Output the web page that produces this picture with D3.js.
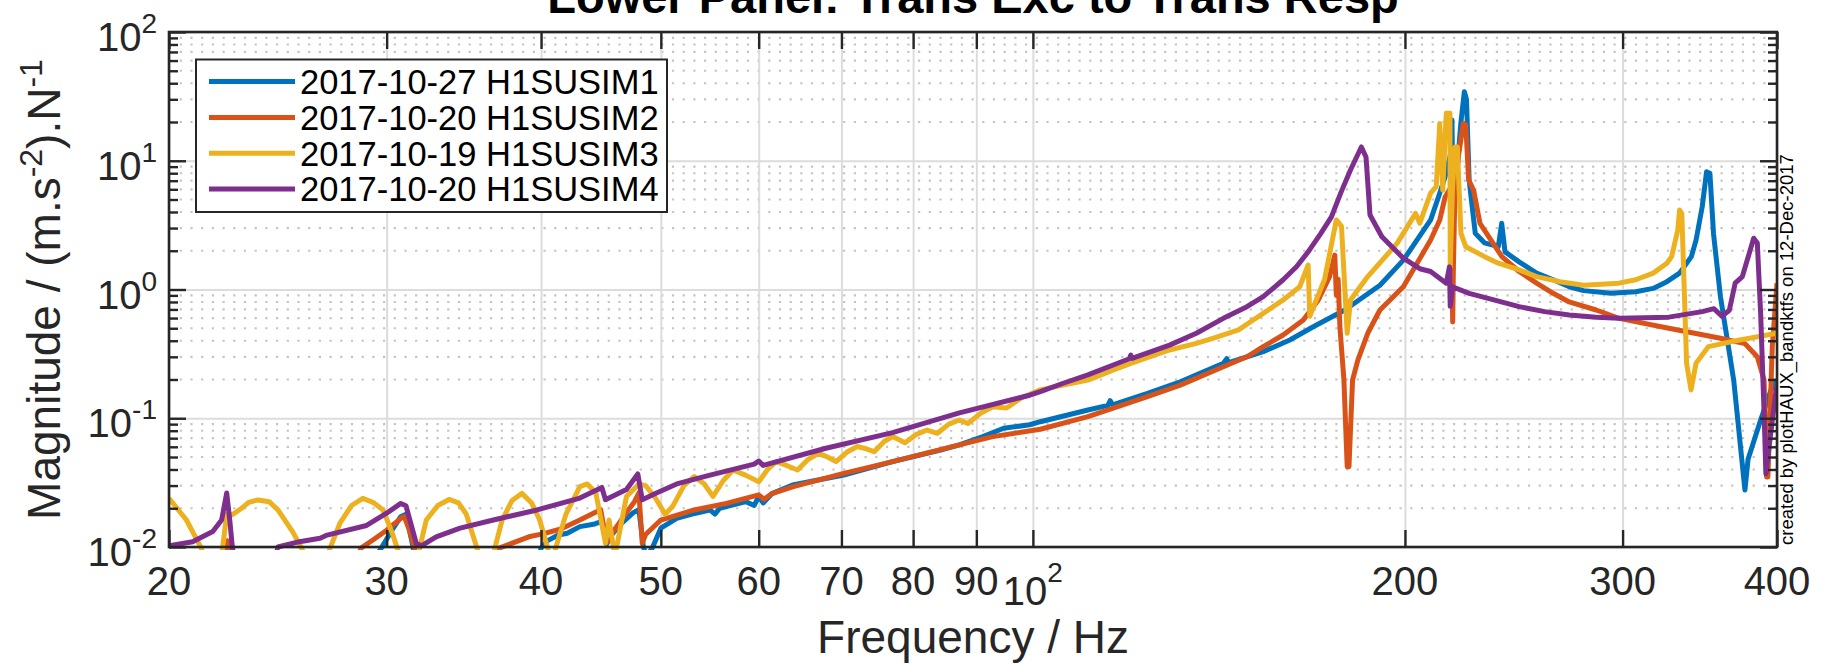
<!DOCTYPE html>
<html><head><meta charset="utf-8">
<script src="https://cdn.jsdelivr.net/npm/d3@7"></script>
<style>
html,body{margin:0;padding:0;background:#fff;}
svg{display:block;}
text{font-family:"Liberation Sans",Arial,Helvetica,sans-serif;}
</style></head><body>
<svg id="chart" width="1831" height="664"></svg>
<script>
// ---------------- data (frequency Hz, magnitude) ----------------
const seriesNames = ["2017-10-27 H1SUSIM1","2017-10-20 H1SUSIM2","2017-10-19 H1SUSIM3","2017-10-20 H1SUSIM4"];
const seriesColors = ["#0072BD","#D95319","#EDB120","#7E2F8E"];

const im1 = [[29.0,0.007],[29.7,0.0098],[30.3,0.0135],[30.8,0.0172],[31.1,0.018],[31.5,0.0102],[31.8,0.006],
 [39.5,0.006],[40.0,0.0098],[40.5,0.0112],[41.3,0.0124],[42.0,0.0128],[43.0,0.0144],[44.1,0.015],[44.8,0.0158],[45.2,0.0105],[45.5,0.012],[46.3,0.0148],[47.5,0.0185],[48.0,0.0195],[48.4,0.0100],[48.7,0.0085],[49.2,0.0098],[50.0,0.014],[51.5,0.0167],[53.0,0.018],[54.8,0.0194],[55.3,0.018],[55.8,0.020],[58.6,0.0225],[59.5,0.021],[60.0,0.0247],[60.5,0.022],[61.5,0.026],[63.9,0.0303],[70.3,0.0362],[77.0,0.046],[84.2,0.0567],[87.2,0.0622],[91.1,0.072],[94.7,0.0836],[99.4,0.089],[101.4,0.094],[110.8,0.116],[115.0,0.126],[115.5,0.137],[116.0,0.127],[123.8,0.156],[131.6,0.192],[142.6,0.267],[143.5,0.29],[144.0,0.27],[149.0,0.30],[153.6,0.329],[161.4,0.405],[168.6,0.514],[178.8,0.693],[190.9,1.08],[199.4,1.69],[209.8,3.47],[213.4,5.6],[216.0,8.0],[217.8,11.5],[218.3,20.7],[218.8,5.0],[220.5,9.0],[222.0,20.0],[223.4,34.4],[224.3,30.0],[225.4,7.1],[228.0,2.73],[232.0,2.3],[238.0,2.15],[239.5,3.27],[241.0,1.96],[247.4,1.64],[255.6,1.34],[263.6,1.19],[271.6,1.05],[279.0,0.98],[293.6,0.934],[307.4,0.96],[317.6,1.02],[325.8,1.15],[333.6,1.34],[341.0,1.8],[344.0,2.42],[348.0,4.4],[350.8,8.2],[353.0,8.0],[355.4,2.7],[360.0,0.88],[369.0,0.198],[376.8,0.0277],[379.0,0.048],[388.0,0.097],[395.6,0.166],[400.0,0.2]];

const im2 = [[22.0,0.006],[22.3,0.0112],[22.5,0.006],
 [28.2,0.007],[28.6,0.0098],[29.3,0.0115],[30.0,0.0135],[30.8,0.0167],[31.0,0.0172],[31.3,0.0135],[31.6,0.0098],[31.9,0.006],
 [36.5,0.007],[37.0,0.0098],[39.1,0.012],[40.2,0.0127],[41.5,0.0138],[43.0,0.0162],[44.1,0.0183],[44.7,0.0195],[45.2,0.0108],[45.7,0.013],[46.9,0.0185],[47.6,0.0225],[48.0,0.0263],[48.3,0.0107],[48.6,0.0125],[50.0,0.0162],[53.2,0.0194],[56.5,0.0218],[60.0,0.0254],[60.6,0.0235],[61.5,0.026],[64.0,0.0294],[70.3,0.0373],[77.0,0.046],[87.2,0.0622],[92.8,0.072],[101.4,0.0822],[110.8,0.103],[123.8,0.147],[131.6,0.181],[142.6,0.251],[149.0,0.30],[153.6,0.36],[159.4,0.443],[165.5,0.58],[170.2,0.83],[173.8,1.26],[175.5,1.85],[176.0,0.9],[176.6,1.2],[177.2,0.5],[178.5,0.2],[179.6,0.042],[180.2,0.042],[181.4,0.198],[183.2,0.283],[186.6,0.457],[190.9,0.693],[199.4,1.05],[209.8,2.42],[213.4,3.47],[215.5,5.2],[217.8,6.2],[218.3,1.5],[218.6,0.56],[218.9,1.5],[219.5,5.5],[221.0,11.0],[223.0,19.5],[224.0,19.0],[225.2,7.1],[227.3,5.9],[230.0,3.27],[239.6,1.8],[247.4,1.38],[255.6,1.12],[263.6,0.934],[271.6,0.8],[285.6,0.693],[298.0,0.597],[327.0,0.5],[360.0,0.418],[376.8,0.38],[385.6,0.3],[390.5,0.198],[392.3,0.035],[393.3,0.035],[396.5,0.36],[400.0,1.12]];

const im3 = [[20.0,0.0239],[20.66,0.0162],[21.24,0.0098],[21.6,0.006],[22.0,0.007],[22.1,0.0098],[22.27,0.018],[22.5,0.0178],[22.9,0.020],[23.2,0.0222],[23.6,0.0232],[24.1,0.0225],[24.5,0.0194],[25.2,0.013],[25.6,0.0098],[26.2,0.006],[26.7,0.007],[27.0,0.0098],[27.5,0.0153],[28.1,0.021],[28.7,0.0239],[29.3,0.022],[29.8,0.0194],[30.3,0.013],[30.6,0.0098],[31.2,0.006],[31.7,0.007],[31.9,0.0098],[32.3,0.0162],[33.0,0.021],[33.7,0.0234],[34.3,0.022],[34.8,0.018],[35.5,0.0098],[36.1,0.006],[36.6,0.007],[36.7,0.0098],[37.2,0.0162],[37.9,0.023],[38.6,0.0261],[39.3,0.022],[39.9,0.0162],[40.5,0.0098],[40.8,0.006],[41.0,0.007],[41.1,0.0098],[41.9,0.018],[43.0,0.0294],[43.6,0.0309],[44.3,0.0263],[45.1,0.0107],[45.4,0.0162],[45.9,0.0085],[46.9,0.0247],[48.0,0.0309],[48.6,0.030],[49.5,0.024],[50.4,0.018],[51.1,0.0206],[52.2,0.030],[53.2,0.0352],[54.2,0.031],[55.1,0.0247],[56.2,0.033],[57.2,0.0396],[58.6,0.036],[60.0,0.0321],[61.0,0.040],[62.0,0.046],[63.2,0.043],[64.5,0.0396],[65.8,0.048],[67.1,0.0535],[68.2,0.050],[69.3,0.046],[70.8,0.055],[72.1,0.0603],[73.2,0.058],[74.4,0.055],[75.8,0.066],[77.0,0.072],[78.8,0.0646],[80.5,0.075],[82.1,0.081],[83.7,0.0764],[85.5,0.090],[87.2,0.097],[88.6,0.091],[90.8,0.110],[92.8,0.123],[95.2,0.12],[98.0,0.145],[101.4,0.166],[105.8,0.181],[110.8,0.198],[116.2,0.237],[120.0,0.267],[129.0,0.339],[135.6,0.382],[139.8,0.418],[146.7,0.486],[150.0,0.562],[153.6,0.653],[159.4,0.83],[164.4,1.05],[167.0,1.55],[167.5,0.62],[172.2,1.2],[176.0,3.47],[177.7,3.1],[179.6,0.457],[180.7,0.83],[186.6,1.26],[197.1,2.28],[204.0,3.9],[205.6,3.27],[209.8,5.6],[212.0,6.3],[213.4,19.5],[214.6,5.9],[216.0,23.4],[217.5,23.4],[217.6,1.5],[218.5,6.0],[219.6,12.8],[220.5,12.8],[222.0,2.73],[224.0,2.15],[232.0,1.8],[238.0,1.6],[247.4,1.42],[255.6,1.26],[267.0,1.15],[279.0,1.08],[298.0,1.12],[307.4,1.19],[317.6,1.34],[325.8,1.6],[328.7,1.8],[332.5,2.9],[333.6,4.14],[335.0,3.9],[338.0,0.267],[340.8,0.166],[344.0,0.267],[352.0,0.36],[370.4,0.40],[400.0,0.457]];

const im4 = [[20.0,0.0102],[20.9,0.011],[21.7,0.0132],[22.06,0.0162],[22.27,0.0263],[22.4,0.016],[22.5,0.0102],[22.7,0.006],
 [24.3,0.007],[24.5,0.010],[25.5,0.011],[26.5,0.0117],[26.8,0.0123],[28.9,0.0147],[30.0,0.0183],[30.8,0.0218],[31.1,0.0209],[31.7,0.0107],[32.0,0.0102],[32.9,0.012],[34.4,0.014],[36.6,0.0162],[39.7,0.0194],[43.0,0.024],[44.8,0.029],[45.1,0.0233],[46.9,0.028],[47.9,0.0369],[48.3,0.0233],[49.6,0.0263],[51.5,0.0309],[54.8,0.0362],[59.5,0.044],[60.0,0.0465],[60.5,0.043],[68.0,0.0585],[77.0,0.0773],[87.2,0.110],[99.4,0.151],[101.4,0.161],[105.8,0.187],[110.8,0.217],[119.7,0.29],[120.0,0.31],[120.3,0.292],[129.0,0.37],[135.6,0.457],[142.6,0.597],[149.0,0.735],[153.6,0.88],[159.4,1.19],[163.4,1.5],[167.0,1.96],[171.0,2.73],[174.4,3.67],[177.4,5.58],[180.7,8.47],[184.4,12.8],[186.0,10.7],[187.4,3.79],[191.6,2.57],[199.4,1.75],[205.6,1.45],[209.8,1.38],[216.0,1.12],[217.3,1.5],[217.6,0.74],[218.5,1.05],[225.4,0.934],[236.0,0.83],[247.4,0.736],[259.5,0.673],[271.6,0.634],[285.6,0.61],[298.0,0.597],[327.0,0.61],[348.0,0.673],[355.6,0.71],[361.0,0.62],[366.0,0.69],[370.0,1.12],[375.0,1.26],[383.0,2.5],[385.6,2.3],[388.0,0.65],[390.5,0.11],[391.8,0.037],[395.6,0.08],[399.6,0.176]];

const seriesData = [im1, im2, im3, im4];

const freqTicks = [20,30,40,50,60,70,80,90,100,200,300,400];
const freqTickLabels = ["20","30","40","50","60","70","80","90","10^2","200","300","400"];
const magTicks = [0.01,0.1,1,10,100];
const magTickExp = ["-2","-1","0","1","2"];

const titleText = "Lower Panel: Trans Exc to Trans Resp";
const xLabelText = "Frequency / Hz";
const footText = "created by plotHAUX_bandktfs on 12-Dec-2017";

// ---------------- layout ----------------
const L = 169, R = 1777, T = 32, B = 547;
const axisColor = "#262626";
const svg = d3.select("#chart");

const x = d3.scaleLog().domain([20,400]).range([L,R]);
const y = d3.scaleLog().domain([0.01,100]).range([B,T]);

// minor grid (y only, dotted)
const minorMag = y.ticks().filter(v => !magTicks.some(m => Math.abs(m - v) / m < 1e-6));
svg.append("g").selectAll("line").data(minorMag).join("line")
  .attr("x1", L).attr("x2", R).attr("y1", d => y(d)).attr("y2", d => y(d))
  .attr("stroke", "#c4c4c4").attr("stroke-width", 2.2).attr("stroke-dasharray", "2.2 8.5");

// major grid
svg.append("g").call(d3.axisBottom(x).tickValues(freqTicks).tickSize(-(B - T)).tickFormat(""))
  .attr("transform", `translate(0,${B})`)
  .call(g => g.select(".domain").remove())
  .call(g => g.selectAll("line").attr("stroke", "#dcdcdc").attr("stroke-width", 2));
svg.append("g").call(d3.axisLeft(y).tickValues(magTicks).tickSize(-(R - L)).tickFormat(""))
  .attr("transform", `translate(${L},0)`)
  .call(g => g.select(".domain").remove())
  .call(g => g.selectAll("line").attr("stroke", "#dcdcdc").attr("stroke-width", 2));

// data lines
svg.append("defs").append("clipPath").attr("id", "clip")
  .append("rect").attr("x", L).attr("y", T - 2).attr("width", R - L).attr("height", B - T + 5);
const line = d3.line().x(d => x(d[0])).y(d => y(d[1]));
const plotG = svg.append("g").attr("clip-path", "url(#clip)");
seriesData.forEach((s, i) => {
  plotG.append("path").datum(s).attr("d", line)
    .attr("fill", "none").attr("stroke", seriesColors[i]).attr("stroke-width", 5)
    .attr("stroke-linejoin", "round").attr("stroke-linecap", "butt");
});

// axes ticks (inward) on all four sides
function styleAxis(g) {
  g.select(".domain").remove();
  g.selectAll("line").attr("stroke", axisColor).attr("stroke-width", 2.4);
}
svg.append("g").attr("transform", `translate(0,${B})`)
  .call(d3.axisBottom(x).tickValues(freqTicks).tickSize(-17).tickFormat("")).call(styleAxis);
svg.append("g").attr("transform", `translate(0,${T})`)
  .call(d3.axisTop(x).tickValues(freqTicks).tickSize(-17).tickFormat("")).call(styleAxis);
svg.append("g").attr("transform", `translate(${L},0)`)
  .call(d3.axisLeft(y).tickValues(magTicks).tickSize(-17).tickFormat("")).call(styleAxis);
svg.append("g").attr("transform", `translate(${L},0)`)
  .call(d3.axisLeft(y).tickValues(minorMag).tickSize(-9).tickFormat("")).call(styleAxis);
svg.append("g").attr("transform", `translate(${R},0)`)
  .call(d3.axisRight(y).tickValues(magTicks).tickSize(-17).tickFormat("")).call(styleAxis);
svg.append("g").attr("transform", `translate(${R},0)`)
  .call(d3.axisRight(y).tickValues(minorMag).tickSize(-9).tickFormat("")).call(styleAxis);

// box
svg.append("rect").attr("x", L).attr("y", T).attr("width", R - L).attr("height", B - T)
  .attr("fill", "none").attr("stroke", axisColor).attr("stroke-width", 2.6);

// x tick labels
freqTicks.forEach((f, i) => {
  const lab = freqTickLabels[i];
  if (lab.includes("^")) {
    const [base, ex] = lab.split("^");
    const t = svg.append("text").attr("x", x(f)).attr("y", 605).attr("text-anchor", "middle")
      .attr("fill", axisColor).attr("font-size", 40);
    t.append("tspan").text(base);
    t.append("tspan").attr("font-size", 28).attr("dy", -23).text(ex);
  } else {
    svg.append("text").attr("x", x(f)).attr("y", 595).attr("text-anchor", "middle")
      .attr("fill", axisColor).attr("font-size", 40).text(lab);
  }
});

// y tick labels
magTicks.forEach((m, i) => {
  const t = svg.append("text").attr("x", 157).attr("y", y(m) + 19).attr("text-anchor", "end")
    .attr("fill", axisColor).attr("font-size", 40);
  t.append("tspan").text("10");
  t.append("tspan").attr("font-size", 28).attr("dy", -18).text(magTickExp[i]);
});

// title (partly cut off at top, as in the reference)
svg.append("text").attr("x", (L + R) / 2).attr("y", 13).attr("text-anchor", "middle")
  .attr("font-size", 47).attr("font-weight", "bold").attr("fill", "#000").text(titleText);

// axis labels
svg.append("text").attr("x", (L + R) / 2).attr("y", 653).attr("text-anchor", "middle")
  .attr("font-size", 46).attr("fill", axisColor).text(xLabelText);
const yl = svg.append("text").attr("transform", `translate(60,${(T + B) / 2}) rotate(-90)`)
  .attr("text-anchor", "middle").attr("font-size", 46).attr("fill", axisColor);
yl.append("tspan").text("Magnitude / (m.s");
yl.append("tspan").attr("font-size", 32).attr("dy", -18).text("-2");
yl.append("tspan").attr("dy", 18).text(").N");
yl.append("tspan").attr("font-size", 32).attr("dy", -18).text("-1");

// footnote on right
svg.append("text").attr("transform", `translate(1793,545) rotate(-90)`)
  .attr("font-size", 18.5).attr("fill", "#000").text(footText);

// legend
const lg = svg.append("g");
lg.append("rect").attr("x", 196).attr("y", 59.5).attr("width", 471).attr("height", 152.5)
  .attr("fill", "#fff").attr("stroke", axisColor).attr("stroke-width", 2);
seriesNames.forEach((n, i) => {
  const cy = 81.6 + i * 35.8;
  lg.append("line").attr("x1", 209).attr("x2", 295).attr("y1", cy).attr("y2", cy)
    .attr("stroke", seriesColors[i]).attr("stroke-width", 5);
  lg.append("text").attr("x", 300).attr("y", cy + 12.3).attr("font-size", 34.5)
    .attr("fill", "#000").text(n);
});
</script>
</body></html>
